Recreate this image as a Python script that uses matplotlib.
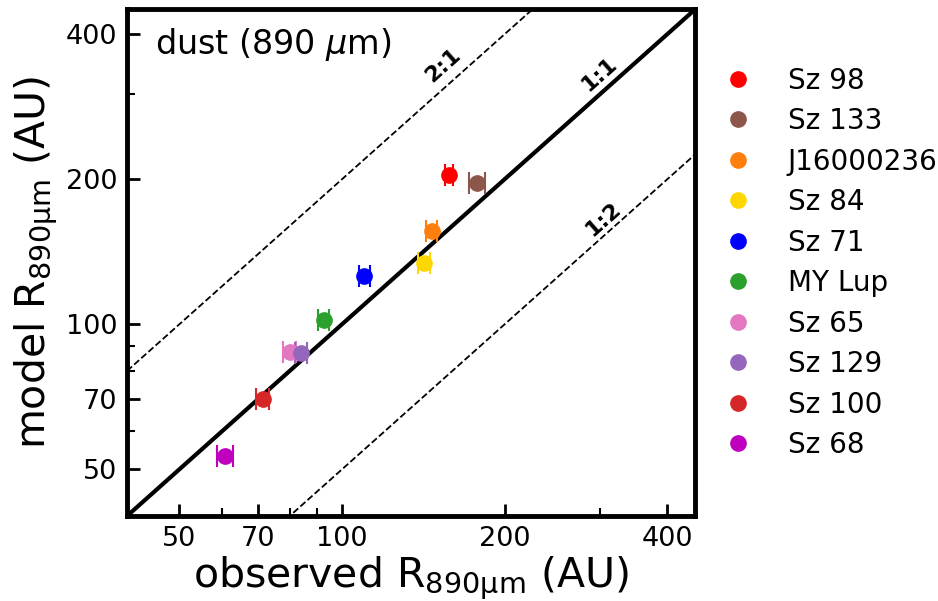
import numpy as np
import matplotlib.pyplot as plt
from matplotlib.lines import Line2D
from matplotlib.ticker import FixedLocator, FixedFormatter, NullFormatter

# disc radii: observed vs model, 890 micron dust continuum
names = ['Sz 98', 'Sz 133', 'J16000236', 'Sz 84', 'Sz 71', 'MY Lup',
         'Sz 65', 'Sz 129', 'Sz 100', 'Sz 68']
colors = ['#ff0000', '#8c564b', '#ff7f0e', '#ffd700', '#0000ff', '#2ca02c',
          '#e377c2', '#9467bd', '#d62728', '#bf00bf']
r_obs = [158, 178, 146.5, 142, 110, 92.5, 80, 84, 71.3, 60.7]
r_obs_err = [2.6, 6.3, 3.6, 3.6, 2.5, 2.3, 2.3, 2.1, 2.0, 2.1]
r_mod = [204, 196, 156, 134, 126, 102, 87.7, 87, 70, 53.3]

lo, hi = 40, 450
major = [50, 70, 100, 200, 400]
minor = [60, 80, 90, 300]

fig = plt.figure(figsize=(9.38, 6.01), dpi=100)
ax = fig.add_axes([0.1354, 0.1414, 0.6055, 0.8428])

xx = np.array([lo, hi])
ax.plot(xx, xx, 'k-', lw=3, zorder=1)
ax.plot(xx, 2 * xx, 'k--', lw=1.3, zorder=1)
ax.plot(xx, xx / 2, 'k--', lw=1.3, zorder=1)

handles = []
for x, xe, y, c, n in zip(r_obs, r_obs_err, r_mod, colors, names):
    ax.errorbar(x, y, xerr=xe, fmt='o', color=c, ms=11, capsize=8,
                elinewidth=1.5, capthick=1.5, zorder=3)
    handles.append(Line2D([], [], marker='o', ls='none', color=c, ms=11, label=n))

ax.set_xscale('log')
ax.set_yscale('log')
ax.set_xlim(lo, hi)
ax.set_ylim(lo, hi)

for axis in (ax.xaxis, ax.yaxis):
    axis.set_major_locator(FixedLocator(major))
    axis.set_major_formatter(FixedFormatter([str(v) for v in major]))
    axis.set_minor_locator(FixedLocator(minor))
    axis.set_minor_formatter(NullFormatter())

ax.tick_params(which='major', direction='in', length=9, width=2, labelsize=19.5, pad=7)
ax.tick_params(which='minor', direction='in', length=5.5, width=1.5)
for s in ax.spines.values():
    s.set_linewidth(3.5)

ax.set_xlabel(r'observed R$_{\mathrm{890\mu m}}$ (AU)', fontsize=29.5, labelpad=2)
ax.set_ylabel(r'model R$_{\mathrm{890\mu m}}$ (AU)', fontsize=29.5, labelpad=4)

ax.text(0.049, 0.93, r'dust (890 $\mu$m)', transform=ax.transAxes,
        fontsize=24, va='center', ha='left')

# rotate the ratio labels to follow the lines on screen
p0 = ax.transData.transform((lo, lo))
p1 = ax.transData.transform((hi, hi))
ang = np.degrees(np.arctan2(p1[1] - p0[1], p1[0] - p0[0]))
for tx, ty, s in [(154, 345, '2:1'), (300, 330, '1:1'), (304, 165, '1:2')]:
    ax.text(tx, ty, s, rotation=ang, fontsize=16, fontweight='bold',
            ha='center', va='center', rotation_mode='anchor')

ax.legend(handles=handles, loc='center left', bbox_to_anchor=(1.0065, 0.5),
          frameon=False, fontsize=20, handlelength=1.0, handletextpad=1.3,
          labelspacing=0.45, borderaxespad=0.5)

fig.savefig('out.png', dpi=100)
